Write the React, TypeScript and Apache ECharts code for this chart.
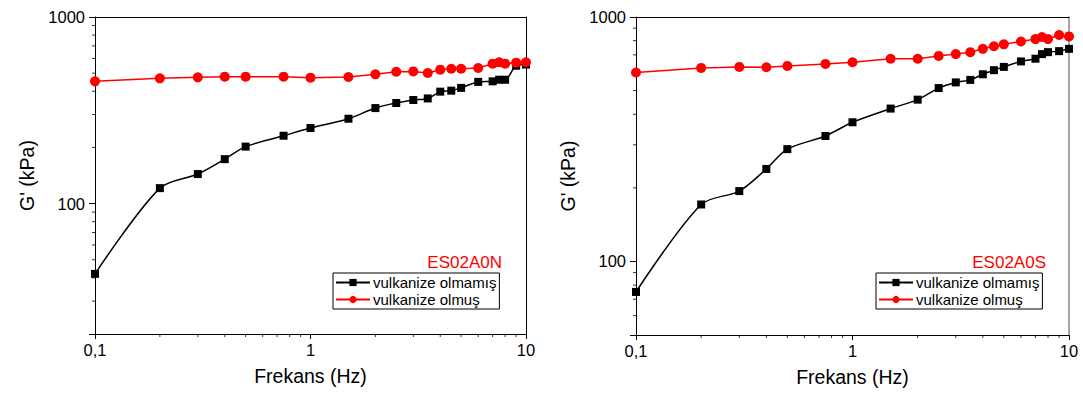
import React, { useEffect, useRef } from 'react';
import * as echarts from 'echarts';

const freq = [0.1, 0.2, 0.3, 0.4, 0.5, 0.75, 1, 1.5, 2, 2.5, 3, 3.5, 4, 4.5, 5, 6, 7, 7.5, 8, 9, 10];
const nUncured = [42, 121, 144, 173, 202, 231, 254, 285, 325, 346, 359, 366, 398, 403, 417, 449, 452, 461, 461, 548, 556];
const nCured = [452, 469, 475, 479, 479, 479, 473, 477, 493, 509, 511, 501, 522, 528, 528, 533, 562, 572, 562, 569, 572];
const sUncured = [75, 171, 194, 239, 288, 326, 371, 422, 459, 512, 540, 553, 583, 606, 625, 658, 675, 705, 718, 725, 741];
const sCured = [593, 619, 625, 623, 631, 643, 653, 675, 675, 693, 705, 718, 741, 759, 773, 794, 812, 828, 812, 844, 833];

const seriesNames = ['vulkanize olmamış', 'vulkanize olmuş'];
const panelTitles = ['ES02A0N', 'ES02A0S'];
const yMins = [20, 50];
const yMax = 1000;
const xMin = 0.1;
const xMax = 10;
const xMinorTicks = [0.2, 0.3, 0.4, 0.5, 0.6, 0.7, 0.8, 0.9, 2, 3, 4, 5, 6, 7, 8, 9];
const yMinorTicksN = [30, 40, 50, 60, 70, 80, 90, 200, 300, 400, 500, 600, 700, 800, 900];
const yMinorTicksS = [60, 70, 80, 90, 200, 300, 400, 500, 600, 700, 800, 900];

const FONT = '"Liberation Sans", Arial, sans-serif';

export default function App() {
  const ref = useRef<HTMLDivElement>(null);
  useEffect(() => {
    if (!ref.current) return;
    const chart = echarts.init(ref.current, undefined, { renderer: 'svg' });
    const grids = [
      { left: 95, top: 17, width: 431, height: 317 },
      { left: 636, top: 17, width: 433, height: 318 },
    ];
    const xFmt = (v: number) => String(v).replace('.', ',');
    const yFmt = (v: number) => {
      const l = Math.log10(v);
      return Math.abs(l - Math.round(l)) < 1e-6 ? String(Math.round(v)) : '';
    };
    const xAxes: any[] = [];
    const yAxes: any[] = [];
    const series: any[] = [];
    const data = [
      [nUncured, nCured],
      [sUncured, sCured],
    ];
    const yMinor = [yMinorTicksN, yMinorTicksS];
    const frameColors = ['#000', '#888'];
    for (let p = 0; p < 2; p++) {
      xAxes.push({
        type: 'log', logBase: 10, gridIndex: p, min: xMin, max: xMax,
        position: 'bottom',
        name: 'Frekans (Hz)', nameLocation: 'middle', nameGap: 32,
        nameTextStyle: { fontFamily: FONT, fontSize: 19.5, color: '#000' },
        axisLine: { lineStyle: { color: '#000', width: 1 } },
        axisTick: { inside: false, length: 5, lineStyle: { color: '#000' } },
        axisLabel: { formatter: xFmt, fontFamily: FONT, fontSize: 16.5, color: '#000', margin: 7 },
        splitLine: { show: false },
      });
      xAxes.push({
        type: 'log', logBase: 10, gridIndex: p, min: xMin, max: xMax, position: 'top',
        axisLine: { lineStyle: { color: '#000', width: 1 } },
        axisTick: { show: false }, axisLabel: { show: false }, splitLine: { show: false },
      });
      yAxes.push({
        type: 'log', logBase: 10, gridIndex: p, min: yMins[p], max: yMax,
        position: 'left',
        name: "G' (kPa)", nameLocation: 'middle', nameGap: 58,
        nameTextStyle: { fontFamily: FONT, fontSize: 19.5, color: '#000' },
        axisLine: { lineStyle: { color: '#000', width: 1 } },
        axisTick: { inside: false, length: 6, lineStyle: { color: '#000' } },
        axisLabel: { formatter: yFmt, fontFamily: FONT, fontSize: 16.5, color: '#000', margin: 10 },
        splitLine: { show: false },
      });
      yAxes.push({
        type: 'log', logBase: 10, gridIndex: p, min: yMins[p], max: yMax, position: 'right',
        axisLine: { lineStyle: { color: frameColors[p], width: p === 1 ? 1.5 : 1 } },
        axisTick: { show: false }, axisLabel: { show: false }, splitLine: { show: false },
      });
      const xi = p * 2;
      const yi = p * 2;
      series.push({
        name: seriesNames[0], type: 'line', xAxisIndex: xi, yAxisIndex: yi,
        data: freq.map((f, i) => [f, data[p][0][i]]),
        smooth: 0.3, symbol: 'rect', symbolSize: 8,
        lineStyle: { color: '#000', width: 1.5 }, itemStyle: { color: '#000' },
        z: 3,
      });
      series.push({
        name: seriesNames[1], type: 'line', xAxisIndex: xi, yAxisIndex: yi,
        data: freq.map((f, i) => [f, data[p][1][i]]),
        symbol: 'circle', symbolSize: 10,
        lineStyle: { color: '#ff0000', width: 1.5 }, itemStyle: { color: '#ff0000' },
        z: 4,
      });
      series.push({
        name: 'xminor' + p, type: 'scatter', xAxisIndex: xi, yAxisIndex: yi,
        data: xMinorTicks.map((v) => [v, yMins[p]]),
        symbol: 'rect', symbolSize: [1, 3], symbolOffset: [0, 1.5],
        itemStyle: { color: '#000' }, silent: true, clip: false,
      });
      series.push({
        name: 'yminor' + p, type: 'scatter', xAxisIndex: xi, yAxisIndex: yi,
        data: yMinor[p].map((v) => [xMin, v]),
        symbol: 'rect', symbolSize: [3, 1], symbolOffset: [-1.5, 0],
        itemStyle: { color: '#000' }, silent: true, clip: false,
      });
    }
    const legendCommon = {
      orient: 'vertical', data: seriesNames, top: 273,
      borderColor: '#000', borderWidth: 1, borderRadius: 0,
      padding: [2, 3, 2, 2], itemGap: 2, itemWidth: 34, itemHeight: 9,
      textStyle: { fontFamily: FONT, fontSize: 15, color: '#000', padding: [0, 0, 0, -2] },
      selectedMode: false,
    };
    chart.setOption({
      animation: false,
      backgroundColor: '#fff',
      grid: grids,
      xAxis: xAxes,
      yAxis: yAxes,
      title: [
        { text: panelTitles[0], right: 581, top: 254, padding: 0, textStyle: { fontFamily: FONT, fontSize: 17, fontWeight: 'normal', color: '#ff0000' } },
        { text: panelTitles[1], right: 37, top: 254, padding: 0, textStyle: { fontFamily: FONT, fontSize: 17, fontWeight: 'normal', color: '#ff0000' } },
      ],
      legend: [
        { ...legendCommon, left: 333 },
        { ...legendCommon, left: 876 },
      ],
      series,
    });
    return () => chart.dispose();
  }, []);
  return <div ref={ref} style={{ position: 'absolute', left: 0, top: 0, width: 1083, height: 394 }} />;
}
